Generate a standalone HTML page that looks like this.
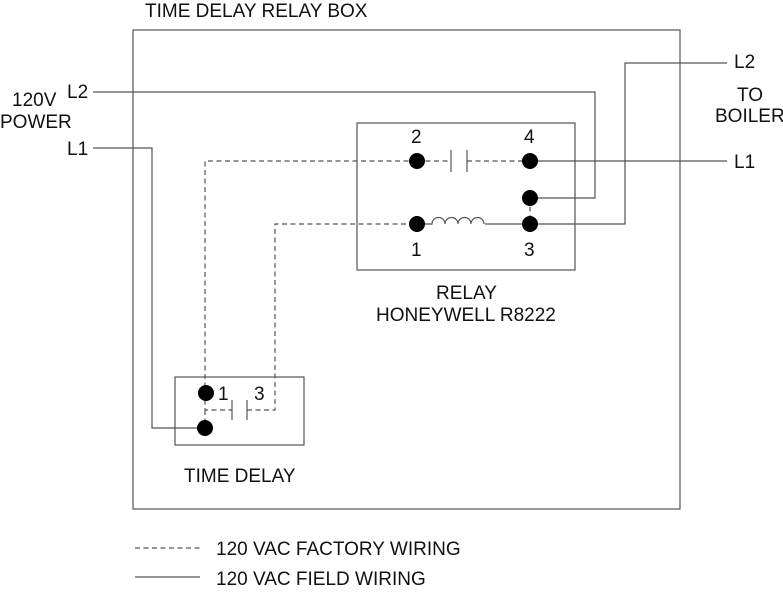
<!DOCTYPE html>
<html><head><style>
body{margin:0;background:#fff}
svg text{font-family:"Liberation Sans",sans-serif;font-size:19px;fill:#111}
</style></head><body>
<svg width="783" height="587" viewBox="0 0 783 587" xmlns="http://www.w3.org/2000/svg">
<g fill="none" stroke="#555" stroke-width="1.2">
<rect x="133" y="30" width="547" height="479"/>
<rect x="357" y="123" width="218" height="147"/>
<rect x="175" y="377" width="129" height="68"/>
<polyline points="93,92 595,92 595,198 530,198"/>
<polyline points="93,148 152,148 152,428 205,428"/>
<polyline points="530,161 727,161"/>
<polyline points="485,224 625,224 625,63 727,63"/>
<path d="M417,224 H432 a6.5,6.5 0 0 1 13,0 a6.5,6.5 0 0 1 13,0 a6.5,6.5 0 0 1 13,0 a6.5,6.5 0 0 1 13,0"/>
<line x1="451" y1="150" x2="451" y2="172"/>
<line x1="467" y1="150" x2="467" y2="172"/>
<line x1="232" y1="400" x2="232" y2="420"/>
<line x1="247" y1="400" x2="247" y2="420"/>
</g>
<g fill="none" stroke="#555" stroke-width="1.2" stroke-dasharray="5,3.5">
<polyline points="417,161 205,161 205,410 232,410"/>
<line x1="417" y1="161" x2="451" y2="161"/>
<line x1="467" y1="161" x2="530" y2="161"/>
<polyline points="247,410 275,410 275,224 417,224"/>
<line x1="530" y1="198" x2="530" y2="224"/>
<line x1="205" y1="410" x2="205" y2="428"/>
<line x1="135" y1="548" x2="200" y2="548"/>
</g>
<line x1="135" y1="577" x2="200" y2="577" stroke="#555" stroke-width="1.2"/>
<g fill="#000">
<circle cx="417" cy="161" r="8"/><circle cx="530" cy="161" r="8"/>
<circle cx="530" cy="198" r="8"/><circle cx="417" cy="224" r="8"/>
<circle cx="530" cy="224" r="8"/>
<circle cx="206" cy="393" r="8"/><circle cx="205" cy="428" r="8"/>
</g>
<text x="145" y="17">TIME DELAY RELAY BOX</text>
<text x="67" y="98">L2</text>
<text x="12" y="106">120V</text>
<text x="0" y="128">POWER</text>
<text x="67" y="155">L1</text>
<text x="734" y="68">L2</text>
<text x="737" y="101">TO</text>
<text x="715" y="122">BOILER</text>
<text x="734" y="168">L1</text>
<text x="411" y="143">2</text>
<text x="524" y="143">4</text>
<text x="411" y="256">1</text>
<text x="524" y="256">3</text>
<text x="436" y="299">RELAY</text>
<text x="376" y="321">HONEYWELL R8222</text>
<text x="218" y="400">1</text>
<text x="254" y="400">3</text>
<text x="184" y="482">TIME DELAY</text>
<text x="216" y="555">120 VAC FACTORY WIRING</text>
<text x="216" y="585">120 VAC FIELD WIRING</text>
</svg>
</body></html>
